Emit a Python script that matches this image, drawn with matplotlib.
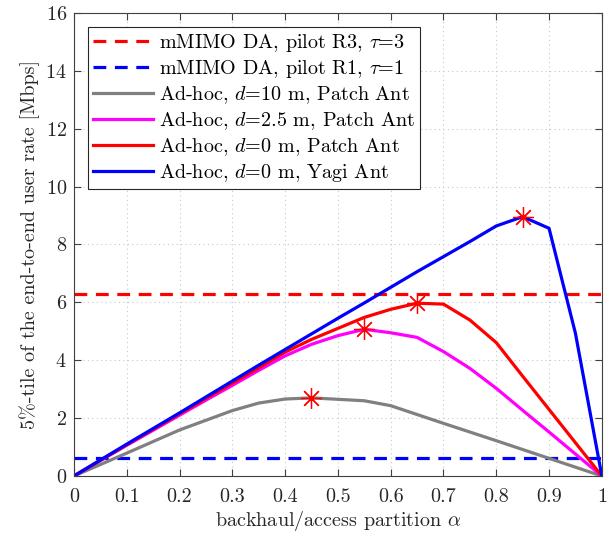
import numpy as np
import matplotlib
matplotlib.use('Agg')
import matplotlib.pyplot as plt

plt.rcParams['font.family'] = 'serif'
plt.rcParams['font.serif'] = ['cmr10', 'DejaVu Serif']
plt.rcParams['mathtext.fontset'] = 'cm'
plt.rcParams['axes.formatter.use_mathtext'] = True

#---------------- data ----------------#
alpha = [0, 0.05, 0.1, 0.15, 0.2, 0.25, 0.3, 0.35, 0.4, 0.45, 0.5,
         0.55, 0.6, 0.65, 0.7, 0.75, 0.8, 0.85, 0.9, 0.95, 1.0]

yagi_d0 = [0, 0.55, 1.10, 1.64, 2.18, 2.73, 3.28, 3.83, 4.37, 4.91, 5.45,
           5.98, 6.52, 7.06, 7.58, 8.10, 8.64, 8.96, 8.56, 4.93, 0]
patch_d0 = [0, 0.54, 1.08, 1.61, 2.15, 2.68, 3.21, 3.74, 4.28, 4.72, 5.10,
            5.48, 5.76, 5.97, 5.94, 5.39, 4.61, 3.45, 2.30, 1.15, 0]
patch_d25 = [0, 0.53, 1.06, 1.58, 2.10, 2.62, 3.13, 3.65, 4.15, 4.55, 4.85,
             5.07, 4.95, 4.79, 4.30, 3.72, 3.03, 2.27, 1.52, 0.76, 0]

alpha_gray = [0, 0.1, 0.2, 0.3, 0.35, 0.4, 0.45, 0.5, 0.55, 0.6, 0.7, 0.8, 0.9, 1.0]
patch_d10 = [0, 0.79, 1.59, 2.26, 2.52, 2.66, 2.70, 2.65, 2.60, 2.43, 1.82, 1.22, 0.61, 0]

mmimo_r3 = 6.29
mmimo_r1 = 0.62

#---------------- plot ----------------#
fig = plt.figure(figsize=(6.16, 5.37), dpi=100)
ax = fig.add_axes([0.12, 0.1136, 0.857, 0.8622])

lw = 2.3
ax.plot([0, 1], [mmimo_r3, mmimo_r3], '--', color='red', lw=lw, dashes=(4, 2.7),
        label=r'mMIMO DA, pilot R3, $\tau$=3')
ax.plot([0, 1], [mmimo_r1, mmimo_r1], '--', color='blue', lw=lw, dashes=(4, 2.7),
        label=r'mMIMO DA, pilot R1, $\tau$=1')
ax.plot(alpha_gray, patch_d10, color='#808080', lw=lw, label=r'Ad-hoc, $d$=10 m, Patch Ant')
ax.plot(alpha, patch_d25, color='magenta', lw=lw, label=r'Ad-hoc, $d$=2.5 m, Patch Ant')
ax.plot(alpha, patch_d0, color='red', lw=lw, label=r'Ad-hoc, $d$=0 m, Patch Ant')
ax.plot(alpha, yagi_d0, color='blue', lw=lw, label=r'Ad-hoc, $d$=0 m, Yagi Ant')

# mark the maxima
for xs, ys in [(alpha_gray, patch_d10), (alpha, patch_d25), (alpha, patch_d0), (alpha, yagi_d0)]:
    k = int(np.argmax(ys))
    ax.plot(xs[k], ys[k], marker=(8, 2, 0), color='red', markersize=15, mew=0.9, ls='none')

ax.set_xlim(0, 1)
ax.set_ylim(0, 16)
ax.set_xticks(np.arange(0, 1.01, 0.1))
ax.set_xticklabels(['0', '0.1', '0.2', '0.3', '0.4', '0.5', '0.6', '0.7', '0.8', '0.9', '1'])
ax.set_yticks(range(0, 17, 2))
ax.tick_params(direction='in', top=True, right=True, labelsize=14.5, colors='#404040',
               labelcolor='#262626', length=5, pad=5)
ax.tick_params(axis='x', pad=9)
for s in ax.spines.values():
    s.set_color('#404040')
ax.grid(True, ls=(0, (1, 3)), color='#c8c8c8', lw=0.8)

ax.set_xlabel(r'backhaul/access partition $\alpha$', fontsize=14.5, color='#262626', labelpad=2)
ax.set_ylabel('5%-tile of the end-to-end user rate [Mbps]', fontsize=14.5, color='#262626')

leg = ax.legend(loc='upper left', fontsize=14.5, fancybox=False, framealpha=1,
                edgecolor='#262626', handlelength=3.0, borderaxespad=0.7,
                labelspacing=0.2, handletextpad=0.25, borderpad=0.25)
leg.get_frame().set_linewidth(0.8)

fig.savefig('out.png', dpi=100)
